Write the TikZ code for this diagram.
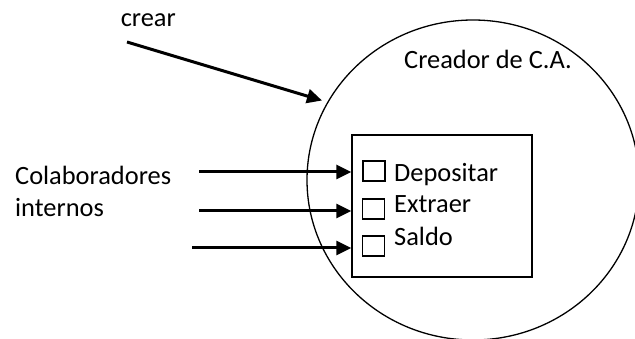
\documentclass[tikz,border=0pt]{standalone}
\usepackage{fontspec}
\setmainfont{Carlito}
\usetikzlibrary{arrows.meta,shapes.geometric}
\begin{document}
\begin{tikzpicture}[x=1pt,y=-1pt,
  lbl/.style={font=\fontsize{26.4}{31}\selectfont, inner sep=0pt},
  thin line/.style={line width=1.3pt},
  conn/.style={line width=3pt, -{Triangle[length=15pt,width=14pt]}},
  cbox/.style={draw, line width=1.2pt, minimum width=22pt, minimum height=20pt, inner sep=0pt}]
\useasboundingbox (0,0) rectangle (635,339);
\begin{scope}
\clip (0,0) rectangle (635,339);
\node[draw, thin line, ellipse, minimum width=332pt, minimum height=320pt, inner sep=0pt] (circ) at (473,180) {};
\end{scope}
\node[draw, thin line, minimum width=180pt, minimum height=142pt, inner sep=0pt] (rect) at (442,206) {};
\node[lbl, anchor=base west] (creador) at (404,69) {Creador de C.A.};
\node[lbl, anchor=base east] (crear) at (176,27) {crear};
\node[lbl, anchor=base west] (colab) at (15,185) {Colaboradores};
\node[lbl, anchor=base west] (intern) at (15,217) {internos};
\node[cbox] (b1) at (374,171) {};
\node[cbox] (b2) at (373.5,209) {};
\node[cbox] (b3) at (373.5,246) {};
\node[lbl, anchor=base west] (dep) at (394,182) {Depositar};
\node[lbl, anchor=base west] (ext) at (394,213) {Extraer};
\node[lbl, anchor=base west] (sal) at (394,246) {Saldo};
\coordinate (s0) at (127,42);
\coordinate (e0) at (322,100.5);
\coordinate (s1) at (199,172);
\coordinate (s2) at (199,211);
\coordinate (s3) at (192,248);
\draw[conn] (s0) -- (e0);
\draw[conn] (s1) -- (rect.west |- s1);
\draw[conn] (s2) -- (rect.west |- s2);
\draw[conn] (s3) -- (rect.west |- s3);
\end{tikzpicture}
\end{document}
